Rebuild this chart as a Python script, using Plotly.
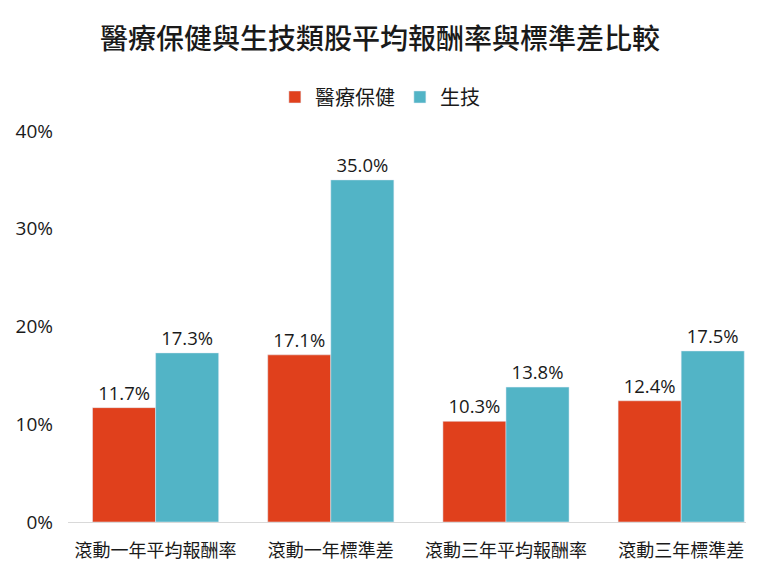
import plotly.graph_objects as go

categories = ["滾動一年平均報酬率", "滾動一年標準差", "滾動三年平均報酬率", "滾動三年標準差"]
healthcare = [0.117, 0.171, 0.103, 0.124]
biotech = [0.173, 0.350, 0.138, 0.175]
series_names = ["醫療保健", "生技"]
colors = ["#E0401C", "#52B4C6"]

FONT = "Noto Sans CJK TC, Open Sans, sans-serif"

fig = go.Figure()
for name, vals, col in zip(series_names, [healthcare, biotech], colors):
    fig.add_trace(go.Bar(
        x=categories, y=vals, name=name, marker_color=col,
        texttemplate="%{y:.1%}", textposition="outside",
        textfont=dict(size=18.5, color="#1a1a1a", family="Open Sans, sans-serif"),
        cliponaxis=False,
    ))

fig.update_layout(
    width=760, height=582,
    margin=dict(l=68, r=14, t=131, b=60),
    paper_bgcolor="white", plot_bgcolor="white",
    barmode="group", bargap=0.28, bargroupgap=0,
    font=dict(family=FONT, color="#1a1a1a", size=16),
    title=dict(text="醫療保健與生技類股平均報酬率與標準差比較", x=0.5, xanchor="center",
               y=0.933, yanchor="middle",
               font=dict(size=28, color="#1a1a1a", family=FONT, weight=500)),
    legend=dict(orientation="h", x=0.46, xanchor="center", y=1.087, yanchor="middle",
                font=dict(size=20, family=FONT), itemwidth=30, traceorder="normal"),
    showlegend=True,
)
fig.update_xaxes(range=[-0.5, 3.37], showline=True, linecolor="#D9D9D9", linewidth=1,
                 ticks="", tickfont=dict(size=18, family=FONT), showgrid=False,
                 ticklabelstandoff=12)
fig.update_yaxes(range=[0, 0.4], tickformat=".0%", dtick=0.1, showgrid=False, zeroline=False,
                 tickfont=dict(size=19, family="Open Sans, sans-serif", color="#1a1a1a"),
                 ticklabelstandoff=14)

fig.write_html("out.html")
